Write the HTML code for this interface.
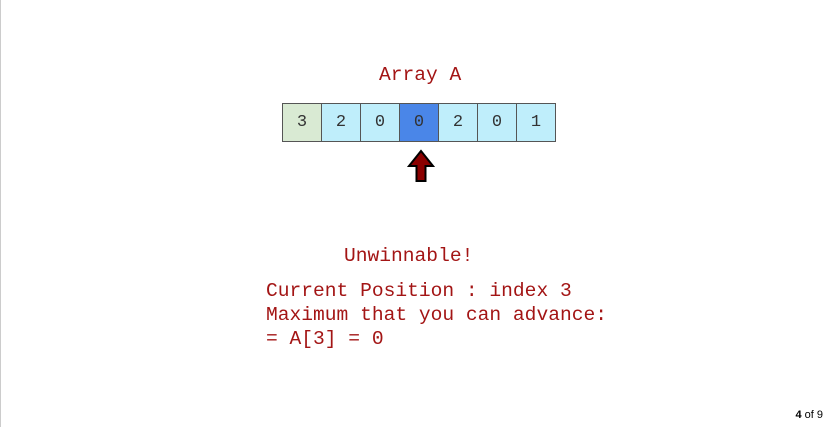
<!DOCTYPE html>
<html><head><style>
body{margin:0;width:827px;height:427px;background:#fff;position:relative;overflow:hidden;font-family:"Liberation Mono",monospace;}
.t{position:absolute;color:#a31515;font-size:19.6px;white-space:pre;line-height:1;}
.c{position:absolute;top:103px;width:38px;height:37px;border:1px solid #555;background:#bfeefb;color:#333;font-size:17px;text-align:center;line-height:37px;}
</style></head><body>
<div style="position:absolute;left:0;top:0;width:1px;height:427px;background:#ccc"></div>
<div class="t" style="left:379px;top:66px">Array A</div>
<div class="c" style="left:282px;background:#d9ead3">3</div>
<div class="c" style="left:321px">2</div>
<div class="c" style="left:360px">0</div>
<div class="c" style="left:399px;background:#4a86e8">0</div>
<div class="c" style="left:438px">2</div>
<div class="c" style="left:477px">0</div>
<div class="c" style="left:516px">1</div>
<svg style="position:absolute;left:405px;top:148px" width="32" height="36"><polygon points="16,3 28,18 20.5,18 20.5,33 11.5,33 11.5,18 4,18" fill="#8b0000" stroke="#000" stroke-width="2" stroke-linejoin="miter"/></svg>
<div class="t" style="left:344px;top:247px">Unwinnable!</div>
<div class="t" style="left:266px;top:282px">Current Position : index 3</div>
<div class="t" style="left:266px;top:306px">Maximum that you can advance:</div>
<div class="t" style="left:266px;top:330px">= A[3] = 0</div>
<div style="position:absolute;right:4px;top:409px;font-family:'Liberation Sans',sans-serif;font-size:11px;color:#000"><b>4</b> of 9</div>
</body></html>
